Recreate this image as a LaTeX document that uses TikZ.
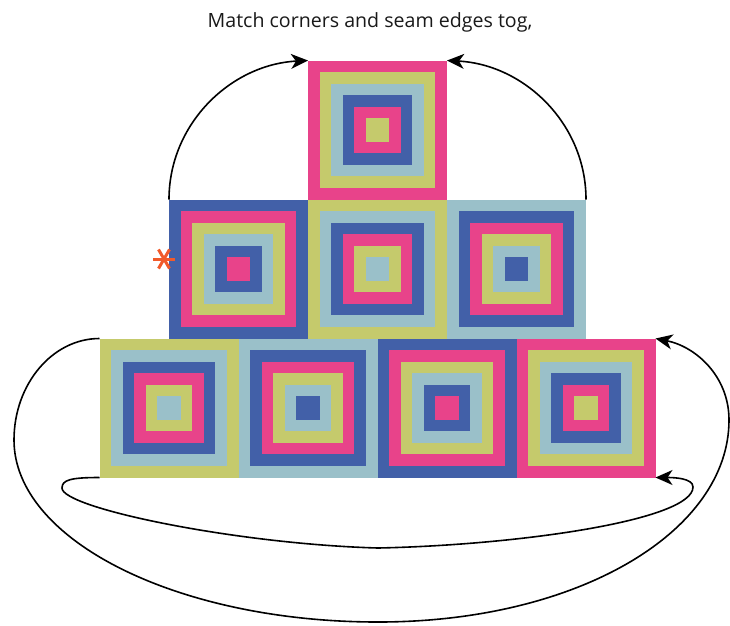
\documentclass[tikz,border=0pt]{standalone}
\usepackage{fontspec}
\setsansfont{Open Sans}
\usetikzlibrary{arrows.meta,positioning,calc}
\definecolor{quilt0}{HTML}{E8438A}
\definecolor{quilt1}{HTML}{C5CA6C}
\definecolor{quilt2}{HTML}{9AC0C9}
\definecolor{quilt3}{HTML}{4260A8}
\definecolor{starorange}{HTML}{F15A2B}

\begin{document}
\begin{tikzpicture}[
  x=1pt, y=-1pt,
  block/.style={minimum size=139pt, inner sep=0pt, outer sep=0pt},
  seam/.style={line width=1.6pt, -{Stealth[length=17pt,width=15pt,inset=5pt]}}
]
\useasboundingbox (0,0) rectangle (730,625);

\node[font=\sffamily\fontsize{19.6}{22}\selectfont, text=black!90] (title) at (370,22) {Match corners and seam edges tog,};

% blocks
\node[block] (top) at (377.5,130) {};
\node[block, below=0pt of top] (r2) {};
\node[block, left=0pt of r2] (r1) {};
\node[block, right=0pt of r2] (r3) {};
\node[block, anchor=north east] (c2) at (r2.south) {};
\node[block, left=0pt of c2] (c1) {};
\node[block, right=0pt of c2] (c3) {};
\node[block, right=0pt of c3] (c4) {};

% rings, outer to inner
\foreach \b/\s in {top/0, r1/3, r2/1, r3/2, c1/1, c2/2, c3/3, c4/0}
  \foreach \k in {0,...,5} {
    \pgfmathtruncatemacro\ring{mod(\s+\k,4)}
    \pgfmathsetmacro\side{139-23.1667*\k}
    \node[fill=quilt\ring, minimum size=\side pt, inner sep=0pt] at (\b) {};
  }

% asterisk
\coordinate (star) at (164,259);
\foreach \a in {0,60,120}
  \draw[starorange, line width=3pt] ($(star)+(\a:11)$) -- ($(star)+(\a+180:11)$);

% seams
\draw[seam] (r1.north west) .. controls +(0,-76) and +(-77,4) .. (top.north west);
\draw[seam] (r3.north east) .. controls +(0,-76) and +(77,4) .. (top.north east);

\coordinate (wideL) at (14,440);
\coordinate (wideB) at (378,622);
\coordinate (wideR) at (729,420);
\draw[seam] (c1.north west) .. controls +(-47,0) and +(0,-56) .. (wideL)
  .. controls +(0,100) and +(-201,0) .. (wideB)
  .. controls +(201,0) and +(0,111) .. (wideR)
  .. controls +(0,-44) and +(40,8) .. (c4.north east);

\coordinate (tightL) at (62,488);
\coordinate (tightB) at (378,548);
\coordinate (tightR) at (693,487);
\draw[seam] (c1.south west) .. controls +(-29,0) and +(0,-8) .. (tightL)
  .. controls +(0,20) and +(-142,-4) .. (tightB)
  .. controls +(142,-3) and +(0,33) .. (tightR)
  .. controls +(0,-9) and +(18,0) .. (c4.south east);
\end{tikzpicture}
\end{document}
